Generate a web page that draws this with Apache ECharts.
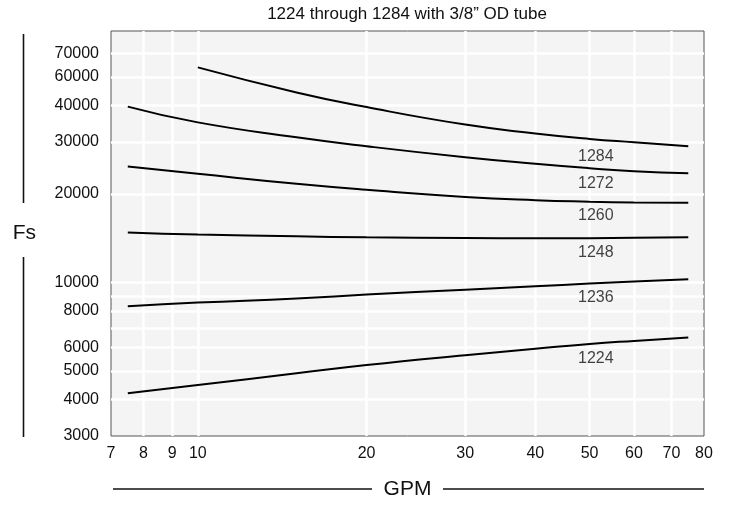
<!DOCTYPE html>
<html>
<head>
<meta charset="utf-8">
<script src="https://cdn.jsdelivr.net/npm/echarts@6/dist/echarts.min.js"></script>
<style>html,body{margin:0;padding:0;background:#fff;}#c{width:729px;height:506px;}</style>
</head>
<body>
<div id="c"></div>
<script>
// ---- data ----
const gpm = [7.5, 10, 15, 20, 30, 40, 50, 60, 75];
const gpm1284 = [10, 15, 20, 30, 40, 50, 60, 75];
const fs1284 = [53850, 44250, 39450, 34400, 32100, 30750, 29950, 29030];
const fs1272 = [39600, 35000, 31140, 29030, 26630, 25300, 24440, 23880, 23500];
const fs1260 = [24770, 23400, 21640, 20650, 19520, 19020, 18800, 18690, 18640];
const fs1248 = [14780, 14530, 14340, 14220, 14140, 14120, 14130, 14170, 14230];
const fs1236 = [8290, 8530, 8800, 9080, 9440, 9690, 9900, 10060, 10240];
const fs1224 = [4190, 4470, 4900, 5230, 5650, 5940, 6170, 6320, 6490];
const seriesNames = ['1284', '1272', '1260', '1248', '1236', '1224'];
const labelGpm = 51.3;
const labelFs = [26730, 21690, 16880, 12650, 8900, 5480];

const xTickValues = [7, 8, 9, 10, 20, 30, 40, 50, 60, 70, 80];
const xTickLabels = ['7', '8', '9', '10', '20', '30', '40', '50', '60', '70', '80'];
const xGridValues = [8, 9, 10, 20, 30, 40, 50, 60, 70];
const yTickValues = [3000, 4000, 5000, 6000, 8000, 10000, 20000, 30000, 40000, 50000, 60000];
const yTickLabels = ['3000', '4000', '5000', '6000', '8000', '10000', '20000', '30000', '40000', '60000', '70000'];
const yGridValues = [4000, 5000, 6000, 7000, 8000, 9000, 10000, 20000, 30000, 40000, 50000, 60000];
const xMin = 7, xMax = 80, yMin = 3000, yMax = 71600;
const titleText = '1224 through 1284 with 3/8\u201D OD tube';

// ---- chart ----
const FONT = '"Liberation Sans", Arial, Helvetica, sans-serif';
const lg = Math.log10;
function pick(vals, labels) {
  return function (v) {
    for (let i = 0; i < vals.length; i++) if (Math.abs(lg(vals[i]) - v) < 1e-6) return labels[i];
    return '';
  };
}
const allFs = [fs1284, fs1272, fs1260, fs1248, fs1236, fs1224];
const series = allFs.map((arr, i) => {
  const xs = i === 0 ? gpm1284 : gpm;
  return {
    type: 'line', name: seriesNames[i], xAxisIndex: 0, yAxisIndex: 0,
    data: arr.map((v, j) => [xs[j], v]),
    smooth: 0.5, symbol: 'none', silent: true,
    lineStyle: { color: '#000', width: 2 }
  };
});
series.push({
  type: 'scatter', xAxisIndex: 0, yAxisIndex: 0, symbolSize: 1,
  itemStyle: { color: 'rgba(0,0,0,0)' }, silent: true,
  data: labelFs.map((v, i) => ({ value: [labelGpm, v], name: seriesNames[i] })),
  label: { show: true, position: 'inside', formatter: '{b}', fontSize: 16, color: '#111', fontFamily: FONT }
});

const chart = echarts.init(document.getElementById('c'), null, { renderer: 'canvas' });
chart.setOption({
  animation: false,
  backgroundColor: '#fff',
  grid: {
    left: 111, right: 25, top: 31, bottom: 70, containLabel: false, outerBoundsMode: 'none',
    show: true, backgroundColor: '#f4f4f4', borderColor: '#555', borderWidth: 1
  },
  xAxis: [
    { type: 'log', logBase: 10, min: xMin, max: xMax, show: false },
    {
      type: 'value', position: 'bottom', min: lg(xMin), max: lg(xMax),
      axisLine: { show: false }, axisTick: { show: false, customValues: xGridValues.map(lg) },
      splitLine: { show: true, lineStyle: { color: '#fff', width: 2.5 } },
      axisLabel: { customValues: xTickValues.map(lg), formatter: pick(xTickValues, xTickLabels),
        fontSize: 16, color: '#111', fontFamily: FONT, margin: 10 },
      name: 'GPM', nameLocation: 'middle', nameGap: 43,
      nameTextStyle: { fontSize: 21, color: '#111', fontFamily: FONT }
    }
  ],
  yAxis: [
    { type: 'log', logBase: 10, min: yMin, max: yMax, show: false },
    {
      type: 'value', position: 'left', min: lg(yMin), max: lg(yMax),
      axisLine: { show: false }, axisTick: { show: false, customValues: yGridValues.map(lg) },
      splitLine: { show: true, lineStyle: { color: '#fff', width: 2.5 } },
      axisLabel: { customValues: yTickValues.map(lg), formatter: pick(yTickValues, yTickLabels),
        fontSize: 16, color: '#111', fontFamily: FONT, margin: 12 },
      name: 'Fs', nameLocation: 'middle', nameGap: 75, nameRotate: 0,
      nameTextStyle: { fontSize: 21, color: '#111', fontFamily: FONT, padding: [6, 0, 0, 0] }
    }
  ],
  graphic: [
    { type: 'text', x: 407, y: 6, silent: true,
      style: { text: titleText, fill: '#111', fontSize: 17, fontFamily: FONT, align: 'center', verticalAlign: 'top' } },
    { type: 'line', silent: true, shape: { x1: 23.5, y1: 34, x2: 23.5, y2: 203 }, style: { stroke: '#111', lineWidth: 1.6 } },
    { type: 'line', silent: true, shape: { x1: 23.5, y1: 257, x2: 23.5, y2: 437 }, style: { stroke: '#111', lineWidth: 1.6 } },
    { type: 'line', silent: true, shape: { x1: 113, y1: 489, x2: 372, y2: 489 }, style: { stroke: '#111', lineWidth: 1.6 } },
    { type: 'line', silent: true, shape: { x1: 443, y1: 489, x2: 704, y2: 489 }, style: { stroke: '#111', lineWidth: 1.6 } }
  ],
  series: series
});
</script>
</body>
</html>
